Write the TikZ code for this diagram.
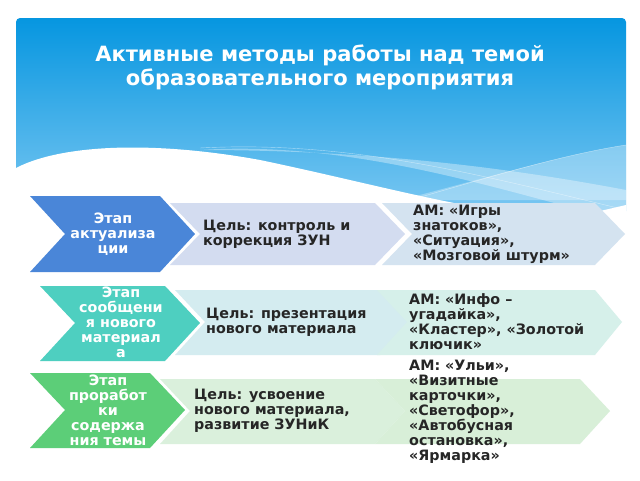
\documentclass[tikz,border=0pt]{standalone}
\usepackage{fontspec}
\setmainfont{DejaVu Sans}
\begin{document}
\begin{tikzpicture}[x=1pt,y=-1pt,
  txt/.style={font=\bfseries\fontsize{14.3}{15}\selectfont,align=left,anchor=west,text=black!85,inner sep=0pt},
  stxt/.style={font=\bfseries\fontsize{14.3}{15}\selectfont,align=center,text=white,inner sep=0pt}]
\useasboundingbox (0,0) rectangle (640,480);
\definecolor{hb1}{HTML}{0696E0}\definecolor{hb2}{HTML}{7CC8F2}
% header
\shade[top color=hb1,bottom color=hb2,rounded corners=4] (16,18) rectangle (626,215);
\fill[white] (16,168) .. controls (60,145) and (150,140) .. (260,160) .. controls (380,185) and (480,215) .. (570,218) -- (626,205) -- (626,230) -- (16,230) -- cycle;
\fill[white,opacity=0.35] (200,150) .. controls (350,140) and (500,190) .. (600,215) -- (626,215) -- (626,190) .. controls (520,170) and (380,150) .. (200,150) -- cycle;
\fill[white,opacity=0.3] (400,200) .. controls (480,180) and (560,155) .. (626,145) -- (626,200) -- cycle;
\draw[white,opacity=0.5] (200,148) .. controls (350,140) and (480,175) .. (626,210);
\draw[white,opacity=0.5] (400,203) .. controls (480,180) and (560,155) .. (626,145);
\fill[white] (0,215) rectangle (640,480);
\node[font=\bfseries\fontsize{21}{24}\selectfont,text=white,align=center] (title) at (320,67) {Активные методы работы над темой\\образовательного мероприятия};
% row 1
\fill[fill={rgb,255:red,74;green,134;blue,216}] (30,196) -- (160,196) -- (195,234) -- (160,272) -- (30,272) -- (65,234) -- cycle;
\fill[fill={rgb,255:red,211;green,220;blue,240}] (170,203) -- (375,203) -- (405,234) -- (375,265) -- (170,265) -- (200,234) -- cycle;
\fill[fill={rgb,255:red,212;green,227;blue,240}] (382,203) -- (595,203) -- (625,234) -- (595,265) -- (382,265) -- (412,234) -- cycle;
\node[stxt] (s1) at (113,234) {Этап\\актуализа\\ции};
\node[txt] (g1) at (203,234) {Цель: контроль и\\коррекция ЗУН};
\node[txt] (m1) at (413,234) {АМ:  «Игры\\знатоков»,\\«Ситуация»,\\«Мозговой штурм»};
% row 2
\fill[fill={rgb,255:red,78;green,207;blue,192}] (40,286) -- (165,286) -- (200,323) -- (165,361) -- (40,361) -- (75,323) -- cycle;
\fill[fill={rgb,255:red,212;green,236;blue,240}] (175,290) -- (380,290) -- (410,322) -- (380,355) -- (175,355) -- (205,322) -- cycle;
\fill[fill={rgb,255:red,214;green,240;blue,234}] (377,290) -- (595,290) -- (622,322) -- (595,355) -- (377,355) -- (407,322) -- cycle;
\node[stxt] (s2) at (121,322) {Этап\\сообщени\\я нового\\материал\\а};
\node[txt] (g2) at (206,322) {Цель:  презентация\\нового материала};
\node[txt] (m2) at (409,322) {АМ: «Инфо –\\угадайка»,\\«Кластер», «Золотой\\ключик»};
% row 3
\fill[fill={rgb,255:red,92;green,206;blue,120}] (30,373) -- (150,373) -- (185,410) -- (150,448) -- (30,448) -- (65,410) -- cycle;
\fill[fill={rgb,255:red,218;green,240;blue,220}] (160,379) -- (375,379) -- (405,411) -- (375,444) -- (160,444) -- (190,411) -- cycle;
\fill[fill={rgb,255:red,216;green,239;blue,216}] (375,379) -- (580,379) -- (610,411) -- (580,444) -- (375,444) -- (405,411) -- cycle;
\node[stxt] (s3) at (108,410) {Этап\\проработ\\ки\\содержа\\ния темы};
\node[txt] (g3) at (194,411) {Цель:  усвоение\\нового материала,\\развитие ЗУНиК};
\node[txt] (m3) at (409,412) {АМ:  «Ульи»,\\«Визитные\\карточки»,\\«Светофор»,\\«Автобусная\\остановка»,\\«Ярмарка»};
\end{tikzpicture}
\end{document}
